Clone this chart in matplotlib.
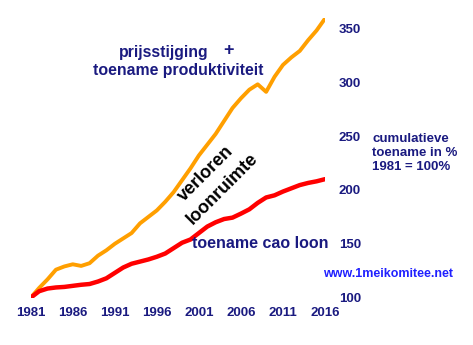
import matplotlib.pyplot as plt
import numpy as np

plt.rcParams['font.family'] = ['Liberation Sans', 'DejaVu Sans']

# years and cumulative growth index (1981 = 100)
years = list(range(1981, 2017))
prijs_productiviteit = [100, 109, 117, 126, 129, 131, 129.5, 132, 139, 144,
                        150, 155, 160, 169, 175, 181, 189, 198, 209, 220,
                        232, 242, 252, 264, 276, 285, 293, 298, 291, 305,
                        316, 323, 329, 339, 348, 359]
cao_loon = [100, 106, 108.5, 109.5, 110, 111, 112, 112.7, 115, 118,
            123, 128, 131.5, 133.5, 135.5, 138, 141, 146, 151, 154,
            160, 166, 170, 173, 174.3, 178, 182, 188, 193, 195,
            198.5, 201.5, 204.5, 206.5, 208, 210]
xticks = [1981, 1986, 1991, 1996, 2001, 2006, 2011, 2016]
yticks = [100, 150, 200, 250, 300, 350]

navy = '#1a1a80'
W, H = 473, 345

fig = plt.figure(figsize=(W / 100, H / 100), dpi=100)
ax = fig.add_axes([30.7 / W, 47.3 / H, 294.3 / W, 280.2 / H])

ax.plot(years, prijs_productiviteit, color='#ff9f00', lw=2.8, solid_capstyle='round')
ax.plot(years, cao_loon, color='#ff0000', lw=3.2, solid_capstyle='round')

ax.set_xlim(1981, 2016)
ax.set_ylim(100, 360)
ax.set_xticks(xticks)
ax.set_yticks(yticks)
ax.yaxis.tick_right()
ax.tick_params(length=0)
ax.tick_params(axis='y', pad=10)
ax.tick_params(axis='x', pad=6.5)
for lab in ax.get_xticklabels() + ax.get_yticklabels():
    lab.set_fontsize(9.5)
    lab.set_fontweight('bold')
    lab.set_color(navy)
for s in ax.spines.values():
    s.set_visible(False)
ax.patch.set_visible(False)


def txt(x, y, s, **kw):
    fig.text(x / W, 1 - y / H, s, **kw)


txt(164, 52, 'prijsstijging', ha='center', va='center', fontsize=11.4,
    fontweight='bold', color=navy)
txt(228, 51, '+', ha='center', va='center', fontsize=13,
    fontweight='bold', color=navy)
txt(178, 70, 'toename produktiviteit', ha='center', va='center', fontsize=11.4,
    fontweight='bold', color=navy)
txt(206, 174, 'verloren', ha='center', va='center', fontsize=13,
    fontweight='bold', color='black', rotation=45)
txt(222, 189, 'loonruimte', ha='center', va='center', fontsize=13,
    fontweight='bold', color='black', rotation=45)
txt(260, 243, 'toename cao loon', ha='center', va='center', fontsize=11.5,
    fontweight='bold', color=navy)
txt(372, 153, 'cumulatieve\ntoename in %\n1981 = 100%', ha='left', va='center',
    fontsize=9.5, fontweight='bold', color=navy, linespacing=1.25)
txt(388, 274, 'www.1meikomitee.net', ha='center', va='center', fontsize=9,
    fontweight='bold', color='#2020ff')

fig.savefig('out.png', dpi=100)
